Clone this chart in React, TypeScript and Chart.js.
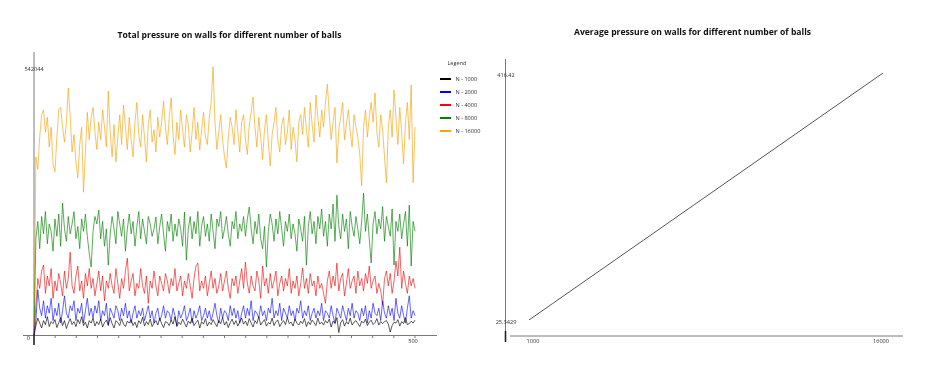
import React, { useEffect, useRef } from "react";
import { Chart, registerables } from "chart.js";

Chart.register(...registerables);

// ---------- Left chart data (total pressure, values in thousands) ----------
const X_MAX = 500;
const X_TICK_LABELS = [0, 500];
const X_MINOR_TICK_INTERVALS = 18;
const Y_TICK_LABELS = [0, 542044];
const UNIT = 1000;

const SERIES_NAMES = ["N - 1000", "N - 2000", "N - 4000", "N - 8000", "N - 16000"];
const SERIES_COLORS = ["#000000", "#0000ff", "#ff0000", "#008000", "#ffa500"];
const SERIES_LINE_COLORS = [
  "rgba(0,0,0,0.72)",
  "rgba(0,0,255,0.68)",
  "rgba(235,0,0,0.68)",
  "rgba(0,128,0,0.72)",
  "rgba(245,165,20,0.75)",
];

const N1000 = [0,
  20, 35, 25, 15, 30, 22, 38, 18, 28, 24,
  32, 16, 26, 36, 20, 30, 14, 25, 34, 22,
  28, 18, 32, 24, 38, 20, 27, 15, 30, 25,
  35, 19, 28, 22, 33, 17, 26, 31, 21, 36,
  24, 15, 30, 26, 20, 34, 23, 18, 29, 25,
  32, 20, 27, 16, 30, 24, 37, 19, 28, 22,
  33, 18, 25, 30, 21, 35, 24, 16, 28, 26,
  20, 31, 23, 38, 18, 27, 22, 33, 25, 17,
  29, 24, 35, 20, 26, 31, 15, 28, 23, 34,
  19, 27, 22, 32, 25, 18, 30, 24, 36, 21,
  28, 16, 26, 33, 22, 30, 19, 27, 35, 23,
  29, 20, 34, 25, 17, 30, 24, 38, 21, 27,
  32, 19, 26, 23, 35, 20, 28, 31, 18, 25,
  30, 22, 36, 24, 27, 19, 33, 25, 21, 29,
  24, 34, 18, 28, 22, 31, 26, 20, 35, 23,
  27, 21, 30, 25, 33, 17, 29, 24, 36, 6,
  26, 32, 19, 28, 23, 35, 21, 27, 30, 24,
  18, 29, 25, 33, 20, 27, 31, 22, 26, 34,
  21, 28, 24, 28, 30, 23, 7, 20, 27, 25,
  32, 19, 28, 24, 36, 22, 24, 29, 25, 31];

const N2000 = [0,
  30, 92, 55, 40, 70, 35, 60, 45, 75, 30,
  55, 40, 65, 25, 50, 80, 45, 35, 60, 50,
  70, 30, 55, 45, 65, 25, 50, 75, 40, 55,
  35, 60, 45, 70, 30, 50, 40, 65, 20, 55,
  45, 35, 60, 50, 30, 55, 40, 65, 35, 50,
  25, 45, 60, 35, 50, 40, 55, 30, 45, 60,
  35, 50, 25, 45, 55, 30, 40, 60, 35, 50,
  45, 30, 55, 40, 20, 50, 35, 45, 60, 30,
  40, 55, 25, 50, 35, 45, 60, 30, 40, 55,
  35, 50, 30, 45, 65, 40, 25, 55, 35, 50,
  45, 30, 60, 40, 55, 35, 50, 25, 45, 60,
  35, 55, 40, 70, 30, 50, 45, 35, 60, 40,
  50, 30, 55, 45, 75, 35, 50, 40, 65, 30,
  55, 45, 35, 60, 40, 50, 30, 55, 45, 70,
  35, 50, 40, 60, 30, 45, 55, 35, 50, 40,
  65, 30, 50, 45, 35, 60, 40, 25, 55, 45,
  35, 60, 45, 30, 55, 40, 65, 35, 50, 45,
  30, 55, 40, 60, 25, 50, 35, 65, 45, 40,
  55, 30, 70, 45, 35, 60, 40, 55, 30, 75,
  45, 35, 60, 40, 25, 55, 80, 35, 50, 40];

const N4000 = [0,
  61, 115, 95, 130, 142, 85, 120, 100, 135, 75,
  110, 90, 125, 105, 80, 130, 95, 115, 168, 100,
  85, 120, 140, 90, 110, 75, 125, 100, 135, 95,
  115, 80, 105, 130, 90, 120, 70, 110, 95, 125,
  100, 85, 135, 105, 75, 115, 95, 130, 156, 90,
  110, 125, 80, 105, 95, 135, 100, 85, 120, 65,
  110, 95, 130, 100, 80, 120, 105, 90, 125, 110,
  85, 115, 100, 135, 90, 105, 120, 80, 110, 95,
  125, 100, 75, 115, 140, 146, 90, 110, 95, 120,
  80, 105, 130, 95, 115, 85, 100, 125, 90, 110,
  130, 95, 75, 115, 100, 120, 85, 110, 135, 95,
  148, 105, 85, 120, 100, 90, 130, 110, 75, 140,
  100, 115, 85, 125, 95, 110, 130, 80, 105, 120,
  90, 115, 100, 135, 85, 110, 95, 120, 80, 105,
  136, 95, 115, 85, 125, 100, 110, 80, 120, 95,
  105, 85, 65, 110, 130, 95, 120, 100, 146, 90,
  115, 125, 80, 105, 135, 95, 110, 120, 85, 130,
  100, 115, 90, 125, 105, 140, 95, 110, 120, 85,
  105, 90, 61, 115, 130, 100, 125, 85, 110, 150,
  120, 178, 95, 130, 105, 85, 120, 100, 115, 95];

const N8000 = [0,
  196, 230, 175, 240, 205, 250, 185, 225, 210, 170,
  235, 200, 245, 180, 267, 215, 190, 240, 205, 225,
  250, 195, 220, 175, 235, 210, 245, 200, 165, 138,
  210, 240, 225, 253, 195, 230, 180, 215, 142, 205,
  240, 215, 185, 250, 225, 200, 235, 170, 215, 245,
  205, 230, 180, 220, 250, 195, 235, 210, 185, 240,
  225, 200, 215, 239, 185, 220, 245, 205, 170, 230,
  210, 245, 190, 225, 200, 235, 215, 180, 249, 152,
  215, 240, 195, 230, 205, 250, 180, 220, 240, 200,
  225, 190, 245, 210, 175, 235, 220, 250, 195, 215,
  240, 205, 180, 230, 215, 250, 195, 225, 210, 240,
  200, 235, 259, 215, 185, 230, 205, 245, 195, 175,
  220, 138, 210, 245, 225, 190, 235, 205, 250, 215,
  180, 230, 210, 245, 195, 225, 205, 170, 235, 215,
  190, 240, 142, 220, 250, 205, 230, 185, 240, 215,
  255, 200, 230, 180, 245, 215, 265, 190, 283, 220,
  195, 245, 210, 235, 175, 250, 220, 200, 240, 215,
  185, 230, 287, 210, 245, 195, 146, 225, 250, 205,
  235, 215, 260, 190, 240, 220, 200, 255, 142, 230,
  210, 245, 195, 225, 250, 180, 263, 140, 230, 210];

const N16000 = [0,
  360, 335, 400, 445, 455, 410, 440, 380, 420, 345,
  330, 400, 455, 460, 420, 390, 430, 499, 440, 370,
  405, 350, 318, 385, 420, 289, 370, 450, 395, 440,
  460, 410, 375, 430, 395, 455, 420, 380, 493, 410,
  360, 425, 350, 400, 445, 385, 465, 420, 375, 440,
  395, 360, 430, 470, 405, 380, 445, 400, 350, 425,
  455, 390, 415, 370, 440, 400, 430, 473, 420, 385,
  440, 479, 405, 365, 430, 395, 455, 415, 380, 445,
  425, 370, 410, 460, 395, 430, 374, 415, 450, 400,
  385, 440, 470, 542.044, 430, 375, 410, 445, 395, 360,
  338, 400, 440, 420, 385, 455, 410, 370, 430, 445,
  395, 365, 425, 450, 481, 420, 380, 440, 400, 355,
  415, 445, 390, 342, 405, 430, 460, 395, 370, 425,
  440, 385, 410, 455, 375, 420, 395, 350, 430, 445,
  405, 460, 415, 380, 470, 425, 390, 485, 440, 400,
  455, 420, 470, 507, 445, 395, 430, 460, 348, 415,
  440, 470, 395, 425, 455, 410, 380, 445, 420, 400,
  365, 302, 420, 455, 400, 440, 470, 430, 489, 410,
  380, 445, 415, 360, 308, 420, 455, 400, 495, 440,
  385, 460, 410, 346, 430, 470, 395, 505, 308, 420];

const SERIES = [N1000, N2000, N4000, N8000, N16000];

// ---------- Right chart data (average pressure) ----------
const BALLS = [1000, 2000, 4000, 8000, 16000];
const AVG_PRESSURE = [25.3429, 51.4, 103.5, 207.8, 416.42];
const AVG_X_TICKS = [1000, 16000];
const AVG_Y_TICKS = [25.3429, 416.42];

const TITLE_LEFT = "Total pressure on walls for different number of balls";
const TITLE_RIGHT = "Average pressure on walls for different number of balls";
const LEGEND_TITLE = "Legend";

const TITLE_FONT = "bold 8.6px 'Open Sans', sans-serif";
const SMALL_FONT = "5.6px 'Open Sans', sans-serif";
const AXIS_COLOR = "#7a7a7a";
const TEXT_COLOR = "#333333";

const leftPlugin = {
  id: "leftDecor",
  beforeDatasetsDraw(chart: any) {
    const { ctx } = chart;
    const xs = chart.scales.x;
    const ys = chart.scales.y;
    const x0 = xs.getPixelForValue(0);
    const y0 = ys.getPixelForValue(0);
    ctx.save();
    ctx.strokeStyle = AXIS_COLOR;
    ctx.lineWidth = 1;
    ctx.beginPath();
    ctx.moveTo(x0, 52);
    ctx.lineTo(x0, y0);
    ctx.moveTo(23, y0);
    ctx.lineTo(437, y0);
    for (let k = 1; k <= X_MINOR_TICK_INTERVALS; k++) {
      const px = xs.getPixelForValue((X_MAX * k) / X_MINOR_TICK_INTERVALS);
      ctx.moveTo(px, y0);
      ctx.lineTo(px, y0 + 2.5);
    }
    ctx.stroke();
    ctx.strokeStyle = "#222";
    ctx.lineWidth = 1.6;
    ctx.beginPath();
    ctx.moveTo(x0, y0 - 1);
    ctx.lineTo(x0, y0 + 9.5);
    ctx.stroke();
    ctx.restore();
  },
  afterDraw(chart: any) {
    const { ctx } = chart;
    const xs = chart.scales.x;
    const ys = chart.scales.y;
    const x0 = xs.getPixelForValue(0);
    ctx.save();
    ctx.fillStyle = "#111";
    ctx.font = TITLE_FONT;
    ctx.textAlign = "center";
    ctx.textBaseline = "middle";
    ctx.fillText(TITLE_LEFT, 229.5, 35.5);

    ctx.font = SMALL_FONT;
    ctx.fillStyle = TEXT_COLOR;
    Y_TICK_LABELS.forEach((v) => {
      const py = ys.getPixelForValue(v) + 2.5;
      if (v === 0) {
        ctx.textAlign = "right";
        ctx.fillText(String(v), x0 - 4, py);
      } else {
        ctx.textAlign = "center";
        ctx.fillText(String(v), x0, py);
      }
    });
    X_TICK_LABELS.forEach((v) => {
      if (v === 0) return;
      ctx.textAlign = "center";
      ctx.fillText(String(v), xs.getPixelForValue(v) - 2, ys.getPixelForValue(0) + 6);
    });

    ctx.textAlign = "center";
    ctx.fillText(LEGEND_TITLE, 457, 63);
    SERIES_NAMES.forEach((name, i) => {
      const py = 79 + i * 13;
      ctx.strokeStyle = SERIES_COLORS[i];
      ctx.lineWidth = 2;
      ctx.beginPath();
      ctx.moveTo(440, py);
      ctx.lineTo(451, py);
      ctx.stroke();
      ctx.textAlign = "left";
      ctx.fillStyle = TEXT_COLOR;
      ctx.fillText(name, 455.5, py);
    });
    ctx.restore();
  },
};

const rightPlugin = {
  id: "rightDecor",
  beforeDatasetsDraw(chart: any) {
    const { ctx } = chart;
    ctx.save();
    ctx.strokeStyle = AXIS_COLOR;
    ctx.lineWidth = 1;
    ctx.beginPath();
    ctx.moveTo(15.5, 59);
    ctx.lineTo(15.5, 336);
    ctx.moveTo(20, 336);
    ctx.lineTo(413, 336);
    ctx.stroke();
    ctx.strokeStyle = "#222";
    ctx.lineWidth = 1.6;
    ctx.beginPath();
    ctx.moveTo(15.5, 331);
    ctx.lineTo(15.5, 342);
    ctx.stroke();
    ctx.restore();
  },
  afterDraw(chart: any) {
    const { ctx } = chart;
    const xs = chart.scales.x;
    const ys = chart.scales.y;
    ctx.save();
    ctx.fillStyle = "#111";
    ctx.font = TITLE_FONT;
    ctx.textAlign = "center";
    ctx.textBaseline = "middle";
    ctx.fillText(TITLE_RIGHT, 202.5, 33);

    ctx.font = SMALL_FONT;
    ctx.fillStyle = TEXT_COLOR;
    AVG_Y_TICKS.forEach((v) => {
      ctx.textAlign = "center";
      ctx.fillText(String(v), 16, ys.getPixelForValue(v) + 2.5);
    });
    AVG_X_TICKS.forEach((v, i) => {
      ctx.textAlign = "center";
      ctx.fillText(String(v), xs.getPixelForValue(v) + (i === 0 ? 4 : -2), 341);
    });
    ctx.restore();
  },
};

function LeftChart() {
  const ref = useRef<HTMLCanvasElement | null>(null);
  useEffect(() => {
    if (!ref.current) return;
    const chart = new Chart(ref.current, {
      type: "line",
      data: {
        datasets: SERIES.map((vals, s) => ({
          label: SERIES_NAMES[s],
          data: vals.map((v, i) => ({ x: (i * X_MAX) / (vals.length - 1), y: v * UNIT })),
          borderColor: SERIES_LINE_COLORS[s],
          borderWidth: 0.9,
          pointRadius: 0,
          fill: false,
          tension: 0,
          clip: false as any,
        })),
      },
      options: {
        animation: false,
        responsive: false,
        maintainAspectRatio: false,
        events: [],
        layout: { padding: { left: 34, right: 75, top: 66.7, bottom: 40.5 } },
        scales: {
          x: { type: "linear", min: 0, max: X_MAX, display: false },
          y: { type: "linear", min: Y_TICK_LABELS[0], max: Y_TICK_LABELS[1], display: false },
        },
        plugins: { legend: { display: false }, title: { display: false }, tooltip: { enabled: false } },
      },
      plugins: [leftPlugin],
    } as any);
    return () => chart.destroy();
  }, []);
  return <canvas ref={ref} width={490} height={376} style={{ position: "absolute", left: 0, top: 0, width: 490, height: 376 }} />;
}

function RightChart() {
  const ref = useRef<HTMLCanvasElement | null>(null);
  useEffect(() => {
    if (!ref.current) return;
    const chart = new Chart(ref.current, {
      type: "line",
      data: {
        datasets: [
          {
            label: "Average pressure",
            data: BALLS.map((b, i) => ({ x: b, y: AVG_PRESSURE[i] })),
            borderColor: "#555555",
            borderWidth: 1,
            pointRadius: 0,
            fill: false,
            tension: 0,
          },
        ],
      },
      options: {
        animation: false,
        responsive: false,
        maintainAspectRatio: false,
        events: [],
        layout: { padding: { left: 39, right: 50, top: 73, bottom: 56 } },
        scales: {
          x: { type: "linear", min: AVG_X_TICKS[0], max: AVG_X_TICKS[1], display: false },
          y: { type: "linear", min: AVG_Y_TICKS[0], max: AVG_Y_TICKS[1], display: false },
        },
        plugins: { legend: { display: false }, title: { display: false }, tooltip: { enabled: false } },
      },
      plugins: [rightPlugin],
    } as any);
    return () => chart.destroy();
  }, []);
  return <canvas ref={ref} width={443} height={376} style={{ position: "absolute", left: 490, top: 0, width: 443, height: 376 }} />;
}

export default function App() {
  return (
    <div style={{ position: "absolute", left: 0, top: 0, width: 933, height: 376, background: "#ffffff", overflow: "hidden" }}>
      <LeftChart />
      <RightChart />
    </div>
  );
}
